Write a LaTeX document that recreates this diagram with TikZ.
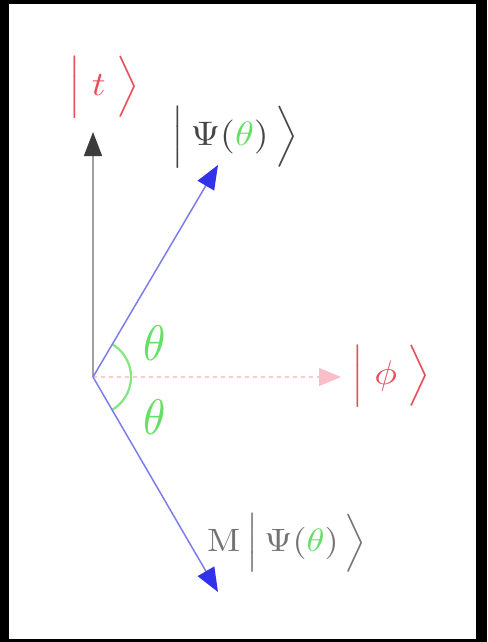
\documentclass[tikz,border=0pt]{standalone}
\usetikzlibrary{arrows.meta}
\definecolor{lblred}{RGB}{232,78,90}
\definecolor{thgreen}{RGB}{100,225,100}
\definecolor{arcgreen}{RGB}{130,230,130}
\definecolor{blueline}{RGB}{125,125,235}
\definecolor{bluetip}{RGB}{50,50,235}
\definecolor{grayline}{RGB}{160,160,160}
\definecolor{graytip}{RGB}{60,60,60}
\definecolor{pinkline}{RGB}{250,205,205}
\definecolor{pinktip}{RGB}{250,190,200}
\definecolor{psigray}{RGB}{70,70,70}
\definecolor{mgray}{RGB}{115,115,115}
\tikzset{
  vecgray/.style={draw=grayline, line width=1.6pt, -{Triangle[length=24pt,width=18pt,color=graytip]}},
  vecblue/.style={draw=blueline, line width=1.5pt, -{Triangle[length=24pt,width=19pt,color=bluetip]}},
  vecpink/.style={draw=pinkline, line width=1.2pt, dashed, dash pattern=on 4pt off 4pt, -{Triangle[length=22pt,width=18pt,color=pinktip]}},
  anglearc/.style={draw=arcgreen, line width=2.2pt},
  ketlabel/.style={inner sep=0pt, scale=3.4, xscale=1.12},
  thlabel/.style={inner sep=0pt, text=thgreen, scale=5, xscale=0.9},
}
\begin{document}
\begin{tikzpicture}[x=1pt,y=-1pt]
\fill[black] (0,0) rectangle (487,642);
\fill[white] (9,4) rectangle (476,639);
\useasboundingbox (0,0) rectangle (487,642);
\coordinate (O) at (93,377);
\coordinate (T) at (93,132);
\coordinate (P) at (218,165);
\coordinate (Q) at (218,592);
\coordinate (F) at (341,377);
% angle arc
\draw[anglearc] (O) ++(-59.5:38) arc[start angle=-59.5, end angle=59.5, radius=38];
% vectors
\draw[vecpink] (O) -- (F);
\draw[vecgray] (O) -- (T);
\draw[vecblue] (O) -- (P);
\draw[vecblue] (O) -- (Q);
% labels
\node[ketlabel, text=lblred] (tlab) at (104,87) {$\Big|\;t\;\Big\rangle$};
\node[ketlabel, text=psigray] (psilab) at (235,137) {$\Big|\,\Psi({\color{thgreen}\theta})\,\Big\rangle$};
\node[ketlabel, text=mgray, scale=0.95] (mlab) at (287,543) {$\mathrm{M}\,\Big|\,\Psi({\color{thgreen}\theta})\,\Big\rangle$};
\node[ketlabel, text=lblred] (philab) at (391,376) {$\Big|\;\phi\;\Big\rangle$};
\node[thlabel] (th1) at (155,343) {$\theta$};
\node[thlabel] (th2) at (155,417) {$\theta$};
\end{tikzpicture}
\end{document}
